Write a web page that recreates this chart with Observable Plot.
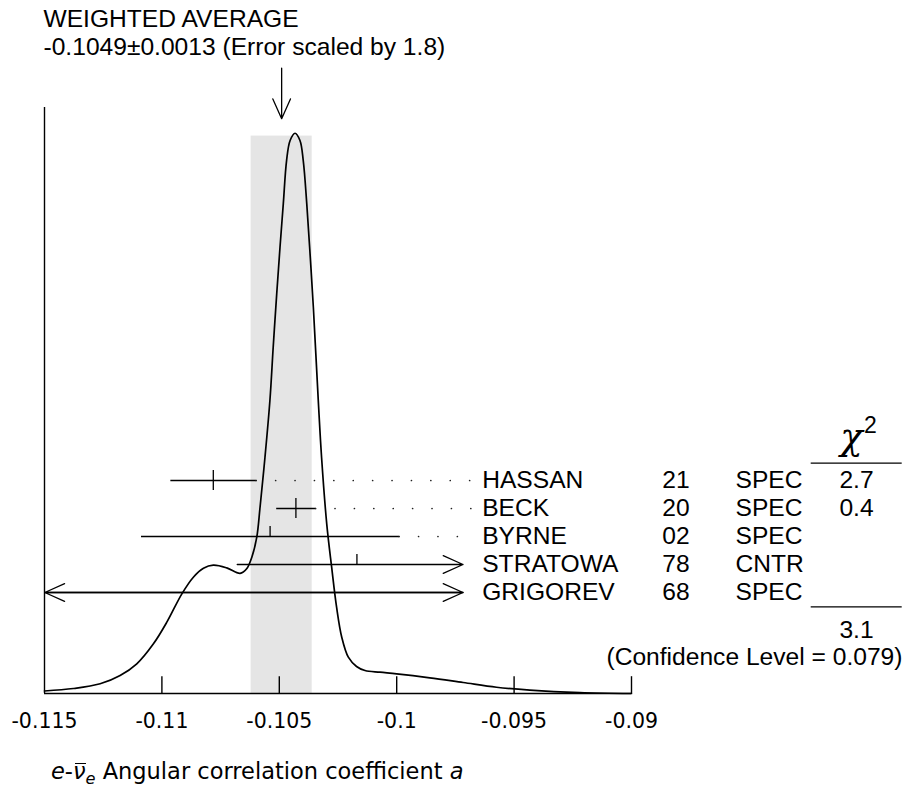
<!DOCTYPE html>
<html><head><meta charset="utf-8">
<script src="https://cdn.jsdelivr.net/npm/d3@7"></script>
<script src="https://cdn.jsdelivr.net/npm/@observablehq/plot@0.6"></script>
<style>
html,body{margin:0;padding:0;background:#fff;}
#wrap{position:relative;width:903px;height:791px;overflow:hidden;background:#fff;}
#wrap svg{position:absolute;left:0;top:0;}
#xtitle{position:absolute;left:51px;top:760px;font-family:"DejaVu Sans";font-size:22.5px;line-height:1;white-space:nowrap;color:#000;}
#xtitle .nu{position:relative;font-style:italic;}
#xtitle .nu .bar{position:absolute;left:0.1em;right:-0.04em;top:0.24em;border-top:1.6px solid #000;}
#xtitle sub{font-size:0.72em;vertical-align:-0.28em;font-style:italic;}
</style></head><body>
<div id="wrap"><div id="xtitle"><i>e</i>-<span class="nu">ν<span class="bar"></span></span><sub>e</sub> Angular correlation coefficient <i>a</i></div></div>
<script>
// ---- data ----
const names  = ["HASSAN", "BECK", "BYRNE", "STRATOWA", "GRIGOREV"];
const years  = ["21", "20", "02", "78", "68"];
const techs  = ["SPEC", "SPEC", "SPEC", "CNTR", "SPEC"];
const values = [-0.10782, -0.10430, -0.1054, -0.1017, -0.091];
const errors = [0.00183, 0.00084, 0.0055, 0.0051, 0.039];
const chi2   = ["2.7", "0.4", "", "", ""];
const usedInAverage = [true, true, false, false, false];

const avgValue = -0.1049;
const avgError = 0.0013;
const scaleFactor = 1.8;
const chi2Total = "3.1";
const confidenceLevel = "0.079";

const xTicks = [-0.115, -0.11, -0.105, -0.1, -0.095, -0.09];
const xTickLabels = ["-0.115", "-0.11", "-0.105", "-0.1", "-0.095", "-0.09"];

// ideogram curve (x value, relative height)
const curveX = [-0.1150, -0.11377, -0.11263, -0.11178, -0.11107, -0.11036, -0.10979, -0.10915, -0.10866, -0.10823,
  -0.10781, -0.10724, -0.10667, -0.10639, -0.10617, -0.10596, -0.10582, -0.10561, -0.10540, -0.10526,
  -0.10511, -0.10497, -0.10483, -0.10469, -0.10454, -0.10433, -0.10412, -0.10398, -0.10383, -0.10369,
  -0.10355, -0.10334, -0.10320, -0.10298, -0.10277, -0.10256, -0.10234, -0.10206, -0.10171, -0.10135,
  -0.10071, -0.10000, -0.09859, -0.09717, -0.09575, -0.09433, -0.09220, -0.0900];
const curveY = [0.0045, 0.0089, 0.0173, 0.0321, 0.0530, 0.0887, 0.1273, 0.1779, 0.2076, 0.2236,
  0.2290, 0.2243, 0.2145, 0.2226, 0.2433, 0.2790, 0.3325, 0.4217, 0.5229, 0.6181,
  0.7134, 0.7965, 0.8740, 0.9513, 0.9870, 1.0000, 0.9870, 0.9513, 0.8740, 0.7848,
  0.6895, 0.5229, 0.4217, 0.3029, 0.2254, 0.1540, 0.1005, 0.0648, 0.0482, 0.0410,
  0.0380, 0.0351, 0.0280, 0.0196, 0.0112, 0.0062, 0.0018, 0.0];

// ---- layout / derived ----
const xDomain = [-0.115, -0.09];
const clipMax = -0.09718;   // where error bars are cut (label area starts)
const leaderEnd = -0.0968;
const curve = curveX.map((x, i) => ({x, y: curveY[i]}));
const rows = names.map((name, i) => {
  const lo = values[i] - errors[i], hi = values[i] + errors[i];
  return {
    name, year: years[i], tech: techs[i], value: values[i], chi: chi2[i], used: usedInAverage[i],
    lo: Math.max(lo, xDomain[0]), hi: Math.min(hi, clipMax),
    cutLo: lo < xDomain[0], cutHi: hi > clipMax, showCenter: values[i] <= clipMax
  };
});

const LS = "Liberation Sans, Arial, Helvetica, sans-serif";
const FS = 24.6;
const wrap = document.getElementById("wrap");

const plotA = Plot.plot({
  width: 903, height: 791,
  marginLeft: 44, marginRight: 272, marginTop: 107, marginBottom: 98,
  x: {domain: xDomain, axis: null},
  y: {domain: [0, 1.046], axis: null},
  style: {background: "white", overflow: "visible"},
  marks: [
    Plot.rectY([avgValue], {x1: d => d - avgError, x2: d => d + avgError, y1: d => 0, y2: d => 0.995, fill: "#e5e5e5"}),
    Plot.ruleX(xTicks.slice(1), {x: d => d, y1: d => 0, y2: d => 0.03, strokeWidth: 1.4}),
    Plot.ruleY([0], {strokeWidth: 1.6}),
    Plot.ruleX([xDomain[0]], {strokeWidth: 1.4}),
    Plot.text(xTicks, {x: d => d, y: d => 0, text: (d, i) => xTickLabels[i], dy: 27.5,
      fontFamily: "DejaVu Sans", fontSize: 20.5, fill: "#000"}),
    Plot.line(curve, {x: "x", y: "y", curve: "catmull-rom", strokeWidth: 1.7, stroke: "#000"}),
    Plot.arrow([avgValue], {x1: d => d, x2: d => d, y1: d => 1.2, y2: d => 1.026,
      insetStart: 47, headLength: 25, headAngle: 48, strokeWidth: 1.3, stroke: "#000"})
  ]
});
wrap.appendChild(plotA);

const T = {frameAnchor: "top-left", lineAnchor: "middle", fontFamily: LS, fontSize: FS, fill: "#000"};

const plotB = Plot.plot({
  width: 903, height: 791,
  marginLeft: 0, marginRight: 0, marginTop: 0, marginBottom: 0,
  x: {domain: xDomain, range: [44.3, 631], axis: null},
  y: {type: "point", domain: names, range: [479, 593.4], padding: 0, axis: null},
  style: {background: "none", overflow: "visible"},
  marks: [
    Plot.link(rows.filter(r => !r.cutLo && !r.cutHi), {x1: "lo", x2: "hi", y1: "name", y2: "name", strokeWidth: 1.3, stroke: "#000"}),
    Plot.arrow(rows.filter(r => r.cutHi), {x1: "lo", x2: "hi", y1: "name", y2: "name",
      headLength: 25, headAngle: 48, strokeWidth: 1.3, stroke: "#000"}),
    Plot.arrow(rows.filter(r => r.cutLo), {x1: "hi", x2: "lo", y1: "name", y2: "name",
      headLength: 25, headAngle: 48, strokeWidth: 1.3, stroke: "#000"}),
    Plot.ruleX(rows.filter(r => r.used), {x: "value", y1: "name", y2: "name", insetTop: -10, insetBottom: -10, strokeWidth: 1.3, stroke: "#000"}),
    Plot.ruleX(rows.filter(r => !r.used && r.showCenter), {x: "value", y1: "name", y2: "name", insetTop: -10, insetBottom: 0, strokeWidth: 1.3, stroke: "#000"}),
    Plot.link(rows.filter(r => !r.cutHi), {x1: "hi", x2: d => leaderEnd, y1: "name", y2: "name",
      strokeDasharray: "0 19.4", strokeLinecap: "round", strokeWidth: 1.7, stroke: "#222"}),
    Plot.text(rows, {y: "name", text: "name", frameAnchor: "left", dx: 481.7, textAnchor: "start", fontFamily: LS, fontSize: FS, fill: "#000"}),
    Plot.text(rows, {y: "name", text: "year", frameAnchor: "left", dx: 661.7, textAnchor: "start", fontFamily: LS, fontSize: FS, fill: "#000"}),
    Plot.text(rows, {y: "name", text: "tech", frameAnchor: "left", dx: 735, textAnchor: "start", fontFamily: LS, fontSize: FS, fill: "#000"}),
    Plot.text(rows, {y: "name", text: "chi", frameAnchor: "left", dx: 856, textAnchor: "middle", fontFamily: LS, fontSize: FS, fill: "#000"}),
    Plot.text(["χ"], {...T, text: d => d, dx: 851, dy: 437, textAnchor: "middle", fontFamily: "DejaVu Serif", fontStyle: "italic", fontSize: 37}),
    Plot.text(["2"], {...T, text: d => d, dx: 870, dy: 425, textAnchor: "middle", fontSize: 23}),
    Plot.ruleY([names[0]], {y: d => d, dy: -17.3, insetLeft: 810.7, insetRight: 1.3, strokeWidth: 1.3, stroke: "#000"}),
    Plot.ruleY([names[names.length - 1]], {y: d => d, dy: 14.3, insetLeft: 810.7, insetRight: 1.3, strokeWidth: 1.3, stroke: "#000"}),
    Plot.text([chi2Total], {...T, text: d => d, dx: 856, dy: 630, textAnchor: "middle"}),
    Plot.text([confidenceLevel], {...T, text: d => `(Confidence Level = ${d})`, dx: 902, dy: 657, textAnchor: "end"}),
    Plot.text(["WEIGHTED AVERAGE"], {...T, text: d => d, dx: 43, dy: 19, textAnchor: "start"}),
    Plot.text([avgValue], {...T, text: d => `${d}±${avgError} (Error scaled by ${scaleFactor})`, dx: 43, dy: 47, textAnchor: "start"})
  ]
});
wrap.appendChild(plotB);
wrap.appendChild(document.getElementById("xtitle"));
</script>
</body></html>
